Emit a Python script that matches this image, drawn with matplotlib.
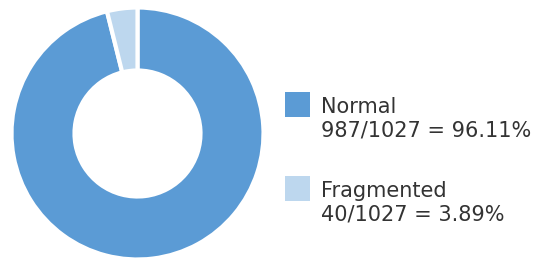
import numpy as np
import matplotlib.pyplot as plt
from matplotlib.patches import Rectangle

labels = ["Normal", "Fragmented"]
counts = [987, 40]
colors = ["#5b9bd5", "#bdd7ee"]
total = sum(counts)

W, H = 537, 262
fig = plt.figure(figsize=(W / 100, H / 100), dpi=100)
ax = fig.add_axes([11.5 / W, 2.5 / H, 252 / W, 252 / H])
ax.pie(counts, colors=colors, startangle=90, counterclock=False,
       wedgeprops=dict(width=0.5, edgecolor="white", linewidth=3))
ax.set_xlim(-1, 1)
ax.set_ylim(-1, 1)
ax.set_aspect("equal")

# legend drawn by hand: square next to the first line of each label
box_y = [145, 61]
text_y = [126, 42]   # baseline of the last line
for l, n, c, by, ty in zip(labels, counts, colors, box_y, text_y):
    fig.patches.append(Rectangle((285 / W, by / H), 25 / W, 25 / H,
                                 transform=fig.transFigure, facecolor=c,
                                 edgecolor="none"))
    fig.text(321 / W, ty / H, "%s\n%d/%d = %.2f%%" % (l, n, total, 100.0 * n / total),
             fontsize=15, color="#333333", va="baseline", ha="left",
             linespacing=1.2)

fig.savefig("out.png", dpi=100)
